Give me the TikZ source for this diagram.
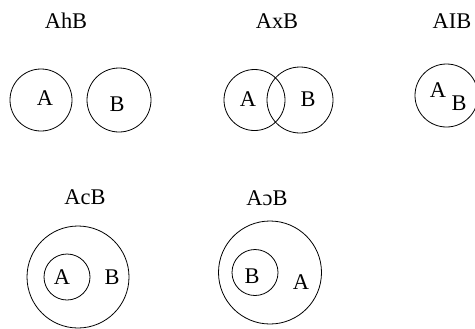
\documentclass[tikz,border=0pt]{standalone}
\usepackage{fontspec}
\setmainfont{Liberation Serif}
\begin{document}
\begin{tikzpicture}[x=1bp,y=-1bp,
  lbl/.style={inner sep=0pt,font=\fontsize{22.5}{26}\selectfont},
  set/.style={circle,draw,line width=0.8bp,inner sep=0pt,minimum size=#1}]
\useasboundingbox (0,0) rectangle (475,328);
% AhB
\node[lbl] (t1) at (66,21) {AhB};
\node[set=62bp] (c1a) at (41,100) {};
\node[set=64bp] (c1b) at (119,100) {};
\node[lbl] (a1) at (45,98) {A};
\node[lbl] (b1) at (117,104) {B};
% AxB
\node[lbl] (t2) at (277,21) {AxB};
\node[set=61bp] (c2a) at (254.5,100) {};
\node[set=66bp] (c2b) at (300,100) {};
\node[lbl] (a2) at (248,99) {A};
\node[lbl] (b2) at (308,99) {B};
% AIB
\node[lbl] (t3) at (452,21) {AIB};
\node[set=63bp] (c3) at (446.5,95.5) {};
\node[lbl] (a3) at (438,90) {A};
\node[lbl] (b3) at (459,103) {B};
% AcB
\node[lbl] (t4) at (85,197) {AcB};
\node[set=102bp] (c4o) at (78,277) {};
\node[set=46bp] (c4i) at (67,277) {};
\node[lbl] (a4) at (62,277) {A};
\node[lbl] (b4) at (112,277) {B};
% A\ocircle B
\node[lbl] (t5) at (267,198) {AɔB};
\node[set=103bp] (c5o) at (270,272.5) {};
\node[set=46bp] (c5i) at (255,272.5) {};
\node[lbl] (b5) at (252,276) {B};
\node[lbl] (a5) at (301,282) {A};
\end{tikzpicture}
\end{document}
